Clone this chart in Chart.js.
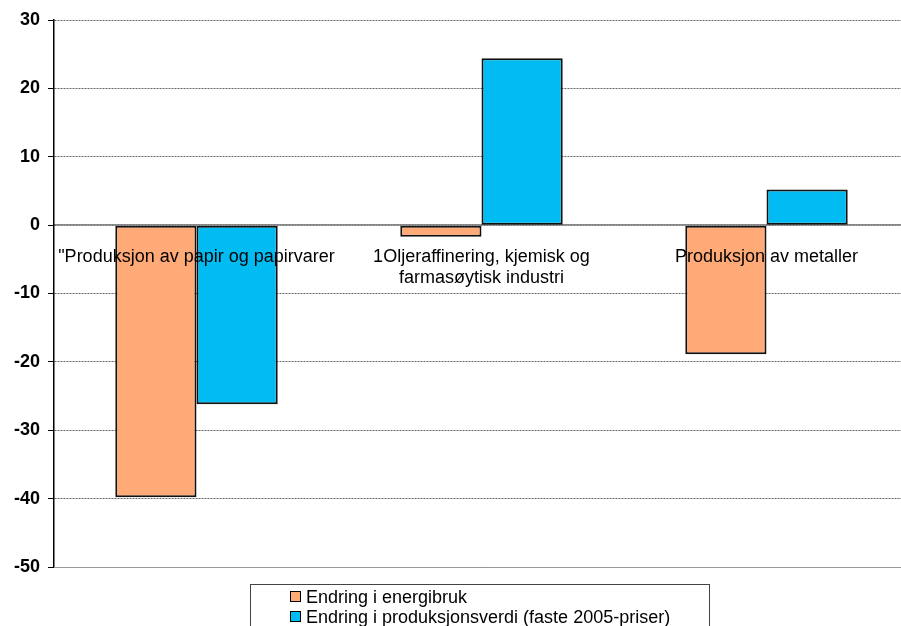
<!DOCTYPE html>
<html>
<head>
<meta charset="utf-8">
<script src="https://cdn.jsdelivr.net/npm/chart.js@4.4.1/dist/chart.umd.min.js"></script>
<style>
  html, body { margin: 0; padding: 0; background: #fff; overflow: hidden; }
  #wrap { position: relative; width: 910px; height: 626px; }
  #legend { position: absolute; left: 250px; top: 584px; width: 460px; height: 60px;
    border: 1px solid #444; font: 18px "Liberation Sans", Arial, sans-serif; color: #000; box-sizing: border-box; }
  .item { position: absolute; left: 39px; white-space: nowrap; line-height: 20px; }
  .sw { display: inline-block; width: 9px; height: 9px; border: 1px solid #000; margin-right: 5px; vertical-align: 1px; }
</style>
</head>
<body>
<div id="wrap">
  <canvas id="c" width="910" height="626"></canvas>
  <div id="legend"></div>
</div>
<script>
const categories = [
  '"Produksjon av papir og papirvarer',
  ['1Oljeraffinering, kjemisk og', 'farmasøytisk industri'],
  'Produksjon av metaller'
];
const seriesNames = ['Endring i energibruk', 'Endring i produksjonsverdi (faste 2005-priser)'];
const energibruk = [-39.8, -1.7, -18.9];
const produksjonsverdi = [-26.2, 24.4, 5.2];
const yTicks = [30, 20, 10, 0, -10, -20, -30, -40, -50];
const colors = ['#FFAA77', '#00BCF2'];

const bottomLine = {
  id: 'bottomLine',
  afterDatasetsDraw(chart) {
    const {ctx, chartArea, scales} = chart;
    const y = Math.round(scales.y.getPixelForValue(-50)) + 0.5;
    ctx.save();
    ctx.strokeStyle = '#999';
    ctx.lineWidth = 1;
    ctx.beginPath(); ctx.moveTo(chartArea.left, y); ctx.lineTo(chartArea.right, y); ctx.stroke();
    ctx.restore();
  }
};

const chart = new Chart(document.getElementById('c'), {
  type: 'bar',
  data: {
    labels: categories,
    datasets: [
      { label: seriesNames[0], data: energibruk, backgroundColor: colors[0], borderColor: '#111', borderWidth: 2, borderSkipped: false },
      { label: seriesNames[1], data: produksjonsverdi, backgroundColor: colors[1], borderColor: '#111', borderWidth: 2, borderSkipped: false }
    ]
  },
  plugins: [bottomLine],
  options: {
    responsive: false,
    animation: false,
    devicePixelRatio: 1,
    layout: { padding: { top: 20, right: 1, bottom: 59, left: 0 } },
    datasets: { bar: { categoryPercentage: 0.57, barPercentage: 1 } },
    plugins: { legend: { display: false }, tooltip: { enabled: false } },
    scales: {
      x: {
        position: { y: 0 },
        grid: { display: false },
        border: { display: true, color: '#888', width: 1.5 },
        ticks: { z: 1, color: '#000', font: { family: '"Liberation Sans", Arial, sans-serif', size: 18 }, padding: 13, maxRotation: 0, minRotation: 0, autoSkip: false }
      },
      y: {
        min: -50, max: 30,
        afterFit(s) { s.width = 54; },
        afterBuildTicks(s) { s.ticks = yTicks.map(v => ({ value: v })); },
        grid: { color: '#666', lineWidth: 1, tickLength: 6, tickColor: '#000', tickBorderDash: [] },
        border: { display: true, color: '#000', width: 1.5, dash: [2, 1] },
        ticks: { color: '#000', font: { family: '"Liberation Sans", Arial, sans-serif', size: 18, weight: 'bold' }, padding: 8 }
      }
    }
  }
});

const leg = document.getElementById('legend');
seriesNames.forEach((n, i) => {
  const d = document.createElement('div');
  d.className = 'item';
  d.style.top = (2 + i * 20) + 'px';
  const sw = document.createElement('span');
  sw.className = 'sw';
  sw.style.background = colors[i];
  d.appendChild(sw);
  d.appendChild(document.createTextNode(n));
  leg.appendChild(d);
});
</script>
</body>
</html>
